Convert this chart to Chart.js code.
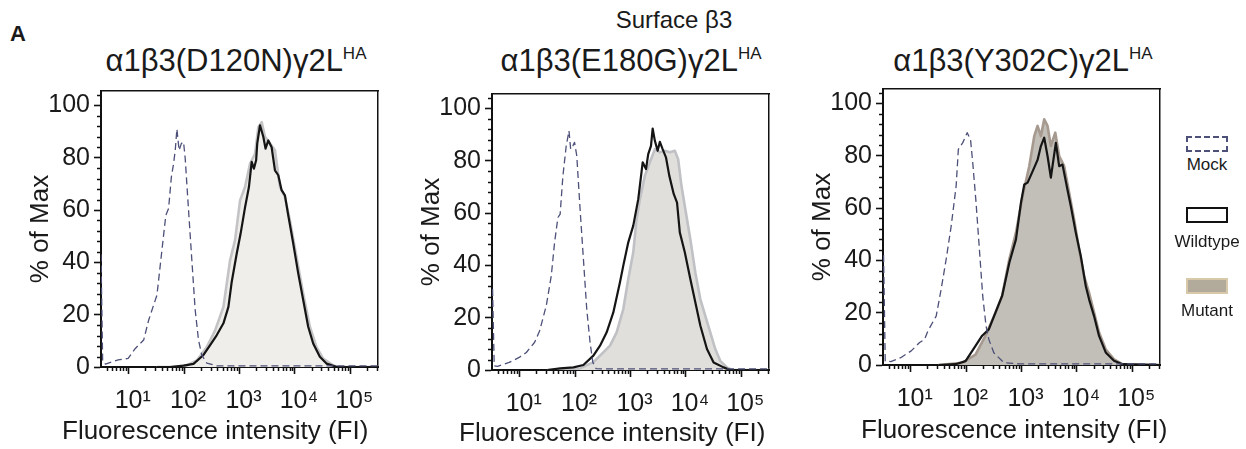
<!DOCTYPE html>
<html>
<head>
<meta charset="utf-8">
<script src="https://cdn.jsdelivr.net/npm/chart.js@4"></script>
<style>
  body { margin: 0; width: 1246px; height: 449px; background: #fff; position: relative; overflow: hidden;
         font-family: "Liberation Sans", Arial, sans-serif; color: #1a1a1a; }
  canvas.panel { position: absolute; }
  .txt { position: absolute; white-space: nowrap; line-height: 1; }
  .ttl { font-size: 31px; transform: translateX(-50%); }
  .ttl sup { font-size: 17px; vertical-align: 0; position: relative; top: -12px; }
  .xtitel { font-size: 26px; }
  .lgbox { position: absolute; left: 1186px; width: 42px; height: 16px; box-sizing: border-box; }
  .lgtxt { font-size: 17px; transform: translateX(-50%); left: 1207px; color: #1a1a1a; }
</style>
</head>
<body>
<div class="txt" style="left:10px;top:23px;font-size:22px;font-weight:bold;">A</div>
<div class="txt" style="left:674px;top:8px;font-size:24px;transform:translateX(-50%);">Surface β3</div>
<div class="txt ttl" style="left:236px;top:45px;">α1β3(D120N)γ2L<sup>HA</sup></div>
<div class="txt ttl" style="left:631px;top:45px;">α1β3(E180G)γ2L<sup>HA</sup></div>
<div class="txt ttl" style="left:1023px;top:45px;">α1β3(Y302C)γ2L<sup>HA</sup></div>

<canvas class="panel" id="panelD120N" width="400" height="449" style="left:0px;top:0px;"></canvas>
<canvas class="panel" id="panelE180G" width="400" height="449" style="left:391px;top:3px;"></canvas>
<canvas class="panel" id="panelY302C" width="400" height="449" style="left:782px;top:-2px;"></canvas>

<div class="txt xtitel" style="left:62px;top:417px;">Fluorescence intensity (FI)</div>
<div class="txt xtitel" style="left:459px;top:419px;">Fluorescence intensity (FI)</div>
<div class="txt xtitel" style="left:861px;top:416px;">Fluorescence intensity (FI)</div>

<div class="lgbox" style="top:136px;border:2px dashed #4d5078;"></div>
<div class="txt lgtxt" style="top:156px;">Mock</div>
<div class="lgbox" style="top:207px;border:2px solid #111;"></div>
<div class="txt lgtxt" style="top:233px;">Wildtype</div>
<div class="lgbox" style="top:278px;border:2px solid #d8c9aa;background:#b2ab9c;"></div>
<div class="txt lgtxt" style="top:302px;">Mutant</div>

<script>
// x values are read as log10(FI) positions, y values as % of Max
const decadeTicks = [10, 100, 1000, 10000, 100000];
const decadeLabels = ["10¹", "10²", "10³", "10⁴", "10⁵"];
const yLabelTicks = [0, 20, 40, 60, 80, 100];

// D120N
const d120nMockLog = [0.50, 0.53, 0.58, 0.81, 0.99, 1.12, 1.27, 1.36, 1.51, 1.60, 1.67, 1.72, 1.77, 1.81, 1.84, 1.87, 1.91, 1.95, 1.99, 2.02, 2.08, 2.14, 2.20, 2.26, 2.32, 2.41, 2.59, 5.50];
const d120nMockPct = [43, 2, 1.1, 2.7, 3.3, 7.1, 10.3, 17.9, 27.5, 44.7, 58, 60.6, 72.6, 77.7, 82.8, 91, 82.8, 85.4, 86, 79.7, 60, 40.8, 21.8, 10.3, 4.5, 1.5, 0.4, 0.4];
const d120nWtLog = [1.50, 1.75, 1.99, 2.17, 2.35, 2.47, 2.59, 2.71, 2.80, 2.86, 2.95, 3.02, 3.10, 3.17, 3.22, 3.26, 3.30, 3.32, 3.37, 3.43, 3.47, 3.52, 3.58, 3.64, 3.70, 3.76, 3.82, 3.88, 3.97, 4.06, 4.15, 4.24, 4.33, 4.45, 4.57, 4.76, 5.50];
const d120nWtPct = [0, 0, 0.5, 1.2, 4.6, 8.4, 12.2, 16.7, 23, 32.6, 43.4, 51, 61, 68.8, 78.4, 75.8, 79, 85.4, 92.4, 88, 83.5, 86.6, 84, 75.2, 73.3, 67.6, 65.6, 58, 47.2, 35.8, 25.6, 15.4, 9, 3.9, 1.3, 0, 0];
const d120nMutLog = [1.50, 1.75, 2.05, 2.23, 2.41, 2.56, 2.71, 2.83, 2.92, 3.01, 3.10, 3.19, 3.28, 3.34, 3.40, 3.46, 3.55, 3.64, 3.73, 3.82, 3.91, 4.03, 4.15, 4.27, 4.39, 4.51, 4.69, 4.81, 5.50];
const d120nMutPct = [0, 0, 0.6, 2.5, 7.6, 14, 23, 40.8, 48.5, 63.7, 68.8, 77.7, 81.5, 91.7, 93.6, 88, 85.4, 82.8, 68.8, 65, 56, 42, 28, 15.4, 7.6, 3.2, 0.6, 0, 0];

// E180G
const e180gMockLog = [0.51, 0.54, 0.60, 0.81, 0.99, 1.12, 1.27, 1.36, 1.48, 1.57, 1.63, 1.69, 1.73, 1.78, 1.84, 1.89, 1.92, 1.96, 1.99, 2.03, 2.09, 2.15, 2.21, 2.27, 2.32, 2.38, 2.60, 5.50];
const e180gMockPct = [31, 1.6, 1.4, 2.9, 4.8, 6.7, 10.6, 15, 24.6, 36, 48.8, 58.3, 59.6, 74.2, 85.7, 91.4, 84.4, 85.7, 87, 81.9, 61.5, 42.4, 23.3, 10.6, 2.9, 0.5, 0.4, 0.4];
const e180gWtLog = [1.50, 1.73, 1.97, 2.15, 2.33, 2.45, 2.57, 2.69, 2.81, 2.87, 2.96, 3.05, 3.14, 3.22, 3.28, 3.32, 3.37, 3.40, 3.44, 3.49, 3.53, 3.58, 3.64, 3.70, 3.78, 3.84, 3.89, 3.98, 4.08, 4.17, 4.26, 4.38, 4.50, 4.68, 4.80, 5.50];
const e180gWtPct = [0, 0.6, 1, 1.9, 5.5, 9.3, 14.4, 22, 33.5, 39.9, 48.8, 55.2, 65.3, 79.4, 76.8, 82.5, 85.7, 92.3, 87.6, 83.8, 87.2, 84.4, 81.3, 74.3, 67.3, 64, 52.6, 45, 34.8, 25.9, 17, 8, 2.9, 1, 0, 0];
const e180gMutLog = [1.50, 2.09, 2.33, 2.45, 2.63, 2.75, 2.87, 2.96, 3.05, 3.11, 3.17, 3.26, 3.35, 3.44, 3.53, 3.62, 3.71, 3.80, 3.86, 3.92, 3.98, 4.08, 4.17, 4.26, 4.35, 4.44, 4.53, 4.62, 4.74, 4.83, 5.50];
const e180gMutPct = [0, 0.6, 3, 5.5, 9.3, 14.4, 23.3, 34.8, 45, 57.8, 65.3, 74.3, 79.4, 84.4, 83.2, 83.8, 83.2, 83.8, 80.6, 70.4, 62.7, 50, 37.3, 27.1, 20.7, 14.4, 8, 3.5, 1, 0, 0];

// Y302C
const y302cMockLog = [0.51, 0.54, 0.64, 0.82, 1.01, 1.16, 1.25, 1.31, 1.46, 1.55, 1.64, 1.73, 1.82, 1.86, 1.94, 2.02, 2.08, 2.12, 2.18, 2.24, 2.30, 2.36, 2.41, 2.50, 2.68, 2.97, 5.50];
const y302cMockPct = [42, 1.5, 1.3, 2.8, 5.4, 8.6, 9.8, 13, 18.7, 29, 40.4, 53, 68.4, 82.4, 85, 88.8, 86.2, 77.3, 62, 44.2, 26.4, 14.9, 9.8, 4.7, 0.9, 0.4, 0.4];
const y302cWtLog = [1.50, 1.81, 1.99, 2.17, 2.29, 2.41, 2.53, 2.65, 2.78, 2.90, 2.99, 3.05, 3.11, 3.20, 3.29, 3.35, 3.41, 3.47, 3.53, 3.62, 3.68, 3.74, 3.83, 3.89, 3.98, 4.07, 4.16, 4.22, 4.31, 4.40, 4.52, 4.67, 4.82, 5.50];
const y302cWtPct = [0, 0.3, 1.5, 7.3, 11.2, 13.6, 20, 26.4, 39.1, 48, 62, 69, 69.7, 74, 78.4, 83.7, 86.9, 79.9, 71.6, 84.9, 76, 76.6, 67, 60.8, 50.6, 41.7, 30.2, 25.1, 18.7, 11.1, 4.8, 1.6, 0.3, 0];
const y302cMutLog = [1.50, 1.93, 2.17, 2.35, 2.53, 2.65, 2.78, 2.90, 3.02, 3.14, 3.23, 3.29, 3.35, 3.41, 3.47, 3.53, 3.61, 3.68, 3.77, 3.86, 3.95, 4.04, 4.13, 4.22, 4.31, 4.40, 4.52, 4.67, 4.82, 5.50];
const y302cMutPct = [0, 0.8, 4, 11.2, 20, 26.4, 40.4, 50.6, 64.6, 76, 87.5, 91.4, 87.5, 93.9, 91.4, 83.7, 88.8, 79.9, 76, 65.8, 55.6, 44.2, 34, 27.6, 20, 12.4, 6, 2.2, 0.3, 0];

const fontFamily = '"Liberation Sans", Arial, sans-serif';

function punkte(logs, pcts) {
    return logs.map((l, i) => ({ x: Math.pow(10, l), y: pcts[i] }));
}

// short unlabeled ticks between the long labelled ones
const kurzeTicks = {
    id: "kurzeTicks",
    afterDraw(chart) {
        const ctx = chart.ctx;
        ctx.save();
        ctx.strokeStyle = "#111";
        ctx.lineWidth = 1.5;
        const sx = chart.scales.x;
        sx.ticks.forEach((t) => {
            if (t.major) return;
            const p = Math.round(sx.getPixelForValue(t.value)) + 0.5;
            ctx.beginPath();
            ctx.moveTo(p, sx.top);
            ctx.lineTo(p, sx.top + 4);
            ctx.stroke();
        });
        const sy = chart.scales.y;
        sy.ticks.forEach((t) => {
            if (t.major) return;
            const p = Math.round(sy.getPixelForValue(t.value)) + 0.5;
            ctx.beginPath();
            ctx.moveTo(sy.right, p);
            ctx.lineTo(sy.right - 4, p);
            ctx.stroke();
        });
        ctx.restore();
    },
};

function histogramm(canvasId, mock, wt, mut, mutFill, mutLine) {
    new Chart(document.getElementById(canvasId), {
        type: "line",
        data: {
            datasets: [
                { label: "Mock", data: mock, borderColor: "#4d5078", borderWidth: 1.3, borderDash: [7, 4], fill: false, order: 0 },
                { label: "Wildtype", data: wt, borderColor: "#151515", borderWidth: 2.2, fill: false, order: 1 },
                { label: "Mutant", data: mut, borderColor: mutLine, backgroundColor: mutFill, borderWidth: 2.6, fill: "origin", order: 2 },
            ],
        },
        options: {
            responsive: false,
            animation: false,
            layout: { padding: { top: 91, right: 22, left: 0, bottom: 0 } },
            elements: { point: { radius: 0 }, line: { tension: 0, borderJoinStyle: "round" } },
            plugins: { legend: { display: false }, tooltip: { enabled: false } },
            scales: {
                x: {
                    type: "logarithmic",
                    min: Math.pow(10, 0.5),
                    max: Math.pow(10, 5.5),
                    bounds: "data",
                    afterFit: (s) => { s.height = 82; },
                    afterBuildTicks: (s) => {
                        const t = [];
                        [1, 10, 100, 1000, 10000, 100000].forEach((d) => {
                            for (let m = 1; m <= 9; m++) {
                                const v = d * m;
                                if (v >= s.min && v <= s.max) t.push({ value: v, major: m === 1 });
                            }
                        });
                        s.ticks = t;
                    },
                    grid: {
                        drawOnChartArea: false,
                        tickLength: 7,
                        tickWidth: 1.6,
                        tickColor: (c) => (c.tick && c.tick.major ? "#111" : "rgba(0,0,0,0)"),
                    },
                    border: { color: "#111", width: 2 },
                    ticks: {
                        autoSkip: false,
                        maxRotation: 0,
                        padding: 12,
                        labelOffset: 4,
                        color: "#1a1a1a",
                        font: { family: fontFamily, size: 25 },
                        callback: (v) => {
                            const i = decadeTicks.indexOf(v);
                            return i >= 0 ? decadeLabels[i] : "";
                        },
                    },
                },
                y: {
                    min: 0,
                    max: 105.5,
                    afterFit: (s) => { s.width = 101; },
                    afterBuildTicks: (s) => {
                        const t = [];
                        for (let v = 0; v <= 104; v += 4) t.push({ value: v, major: yLabelTicks.includes(v) });
                        s.ticks = t;
                    },
                    grid: {
                        drawOnChartArea: false,
                        tickLength: 7,
                        tickWidth: 1.6,
                        tickColor: (c) => (c.tick && c.tick.major ? "#111" : "rgba(0,0,0,0)"),
                    },
                    border: { color: "#111", width: 2 },
                    ticks: {
                        autoSkip: false,
                        padding: 4,
                        color: "#1a1a1a",
                        font: { family: fontFamily, size: 25 },
                        callback: (v) => (yLabelTicks.includes(v) ? String(v) : ""),
                    },
                    title: {
                        display: true,
                        text: "% of Max",
                        color: "#1a1a1a",
                        font: { family: fontFamily, size: 26 },
                        padding: { top: 25, bottom: 0 },
                    },
                },
                rahmenOben: {
                    type: "linear",
                    position: "top",
                    afterFit: (s) => { s.height = 0; },
                    grid: { display: false, drawTicks: false },
                    ticks: { display: false },
                    border: { color: "#111", width: 1.5 },
                },
                rahmenRechts: {
                    type: "linear",
                    position: "right",
                    afterFit: (s) => { s.width = 0; },
                    grid: { display: false, drawTicks: false },
                    ticks: { display: false },
                    border: { color: "#111", width: 1.5 },
                },
            },
        },
        plugins: [kurzeTicks],
    });
}

histogramm("panelD120N",
    punkte(d120nMockLog, d120nMockPct), punkte(d120nWtLog, d120nWtPct), punkte(d120nMutLog, d120nMutPct),
    "#efeeea", "#c4c4c7");
histogramm("panelE180G",
    punkte(e180gMockLog, e180gMockPct), punkte(e180gWtLog, e180gWtPct), punkte(e180gMutLog, e180gMutPct),
    "#e1dfdb", "#c0c1c5");
histogramm("panelY302C",
    punkte(y302cMockLog, y302cMockPct), punkte(y302cWtLog, y302cWtPct), punkte(y302cMutLog, y302cMutPct),
    "#c2beb8", "#a69a90");
</script>
</body>
</html>
